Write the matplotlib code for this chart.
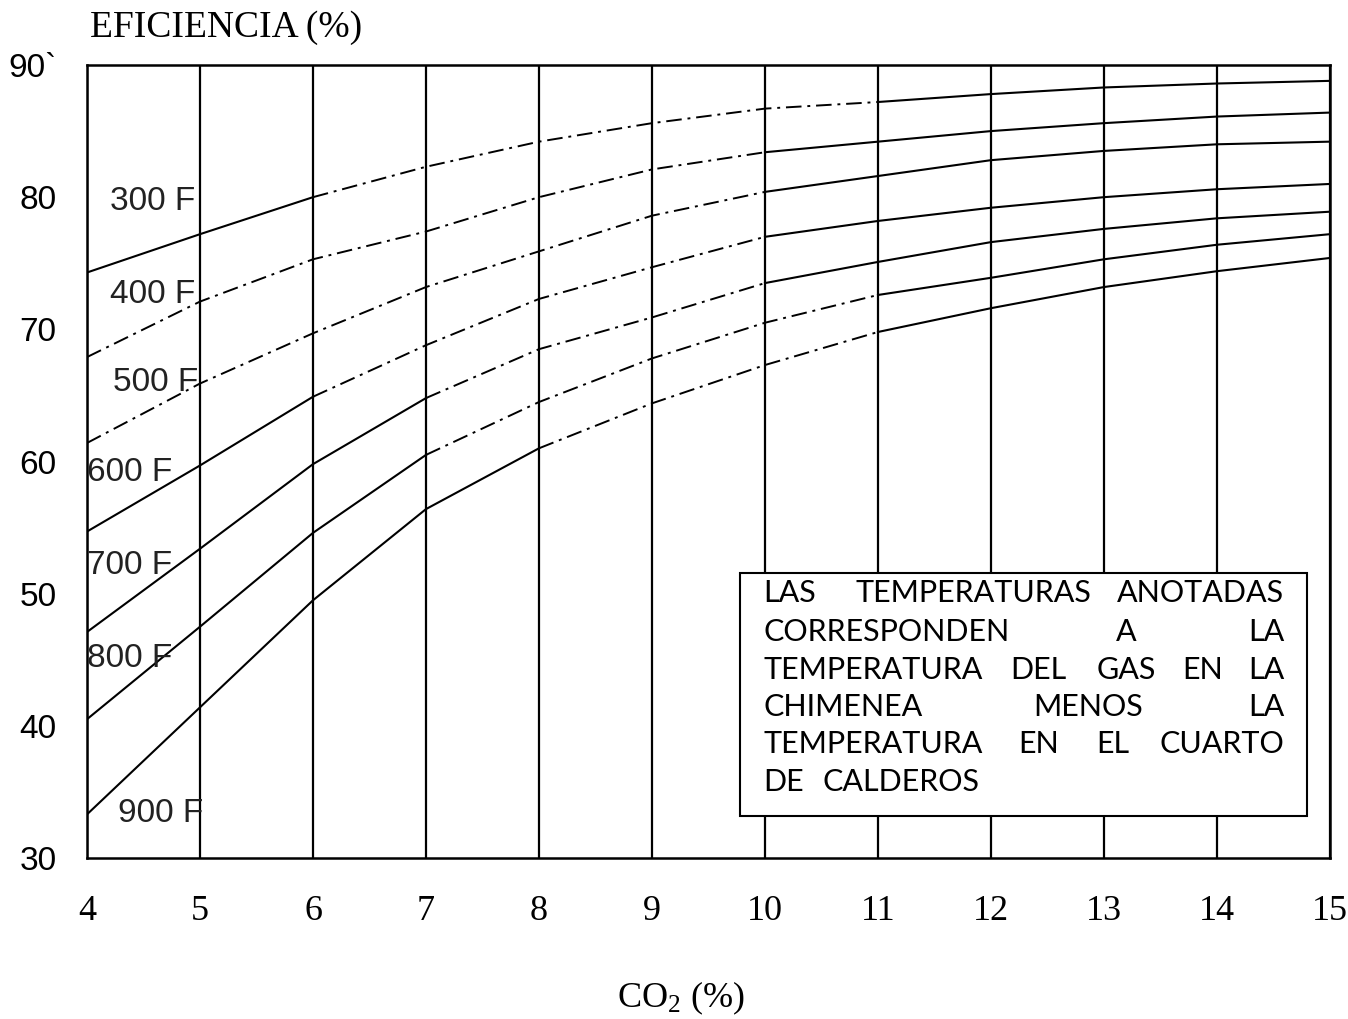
import numpy as np
import matplotlib.pyplot as plt
from matplotlib.patches import Rectangle

plt.rcParams['mathtext.fontset'] = 'custom'
plt.rcParams['mathtext.rm'] = 'Liberation Serif'
plt.rcParams['mathtext.it'] = 'Liberation Serif:italic'

# --- datos ---
co2 = [4, 5, 6, 7, 8, 9, 10, 11, 12, 13, 14, 15]
etiquetas = ['300 F', '400 F', '500 F', '600 F', '700 F', '800 F', '900 F']
ef_300 = [74.3, 77.2, 80.0, 82.3, 84.2, 85.6, 86.7, 87.2, 87.8, 88.3, 88.6, 88.8]
ef_400 = [67.9, 72.1, 75.3, 77.4, 80.0, 82.1, 83.4, 84.2, 85.0, 85.6, 86.1, 86.4]
ef_500 = [61.4, 65.9, 69.7, 73.2, 75.9, 78.6, 80.4, 81.6, 82.8, 83.5, 84.0, 84.2]
ef_600 = [54.7, 59.7, 64.9, 68.8, 72.3, 74.7, 77.0, 78.2, 79.2, 80.0, 80.6, 81.0]
ef_700 = [47.1, 53.4, 59.8, 64.8, 68.5, 70.9, 73.5, 75.1, 76.6, 77.6, 78.4, 78.9]
ef_800 = [40.5, 47.5, 54.6, 60.5, 64.5, 67.8, 70.5, 72.6, 73.9, 75.3, 76.4, 77.2]
ef_900 = [33.3, 41.4, 49.5, 56.4, 61.0, 64.4, 67.3, 69.8, 71.6, 73.2, 74.4, 75.4]
curvas = [ef_300, ef_400, ef_500, ef_600, ef_700, ef_800, ef_900]

# tramos que en el original se ven punteados (escaneo)
tramos_punteados = [(6, 11), (4, 10), (4, 10), (6, 10), (7, 10), (7, 11), (8, 11)]
# posicion de las etiquetas de cada curva
pos_etiquetas = [(4.2, 79.7), (4.2, 72.6), (4.23, 66.0), (4.0, 59.2),
                 (4.0, 52.1), (4.0, 45.1), (4.27, 33.4)]

yticks = [30, 40, 50, 60, 70, 80, 90]
yticklabels = ['30', '40', '50', '60', '70', '80', '90`']

nota = [
    [('LAS', 0.041, 'left'), ('TEMPERATURAS', 0.203, 'left'), ('ANOTADAS', 0.959, 'right')],
    [('CORRESPONDEN', 0.041, 'left'), ('A', 0.662, 'left'), ('LA', 0.959, 'right')],
    [('TEMPERATURA', 0.041, 'left'), ('DEL', 0.476, 'left'), ('GAS', 0.628, 'left'),
     ('EN', 0.780, 'left'), ('LA', 0.959, 'right')],
    [('CHIMENEA', 0.041, 'left'), ('MENOS', 0.517, 'left'), ('LA', 0.959, 'right')],
    [('TEMPERATURA', 0.041, 'left'), ('EN', 0.490, 'left'), ('EL', 0.628, 'left'),
     ('CUARTO', 0.959, 'right')],
    [('DE', 0.041, 'left'), ('CALDEROS', 0.145, 'left')],
]
nota_y = [0.084, 0.245, 0.399, 0.552, 0.706, 0.860]

# --- figura ---
fig = plt.figure(figsize=(13.48, 10.19), dpi=100)
ax = fig.add_axes([87/1348, 1 - 858/1019, (1330 - 87)/1348, (858 - 65)/1019])

x = np.array(co2)
for y, (a, b) in zip(curvas, tramos_punteados):
    y = np.array(y)
    m1 = x <= a
    m2 = (x >= a) & (x <= b)
    m3 = x >= b
    ax.plot(x[m1], y[m1], color='black', lw=1.5)
    ax.plot(x[m2], y[m2], color='black', lw=1.4, ls=(0, (8, 3, 1.5, 3)))
    ax.plot(x[m3], y[m3], color='black', lw=1.5)

for txt, (px, py) in zip(etiquetas, pos_etiquetas):
    ax.text(px, py, txt, fontsize=24, family='Liberation Sans', color='#222222',
            ha='left', va='center')

ax.set_xlim(4, 15)
ax.set_ylim(30, 90)
ax.set_xticks(co2)
ax.set_xticklabels([str(v) for v in co2], family='Liberation Serif', fontsize=26)
ax.set_yticks(yticks)
ax.set_yticklabels(yticklabels, family='Liberation Sans', fontsize=24)
ax.tick_params(axis='x', length=0, pad=27)
ax.tick_params(axis='y', length=0, pad=22)
ax.grid(axis='x', color='black', lw=1.6)
ax.grid(axis='y', visible=False)
for s in ax.spines.values():
    s.set_linewidth(1.8)

# recuadro con la nota
bx0, bx1, by0, by1 = 9.78, 14.8, 33.2, 51.6
ax.add_patch(Rectangle((bx0, by0), bx1 - bx0, by1 - by0, facecolor='white',
                       edgecolor='black', lw=1.5, zorder=3))
for linea, fy in zip(nota, nota_y):
    for palabra, fx, ha in linea:
        ax.text(bx0 + fx*(bx1 - bx0), by1 - fy*(by1 - by0), palabra,
                family='Lato', fontweight='normal', fontsize=22, color='black',
                ha=ha, va='center', zorder=4)

fig.text(90/1348, 1 - 37/1019, 'EFICIENCIA (%)', family='Liberation Serif',
         fontsize=27, ha='left', va='baseline')
fig.text(681/1348, 1 - 998/1019, r'CO$_2$ (%)', family='Liberation Serif',
         fontsize=26, ha='center', va='center')

fig.savefig('out.png', dpi=100, facecolor='white')
